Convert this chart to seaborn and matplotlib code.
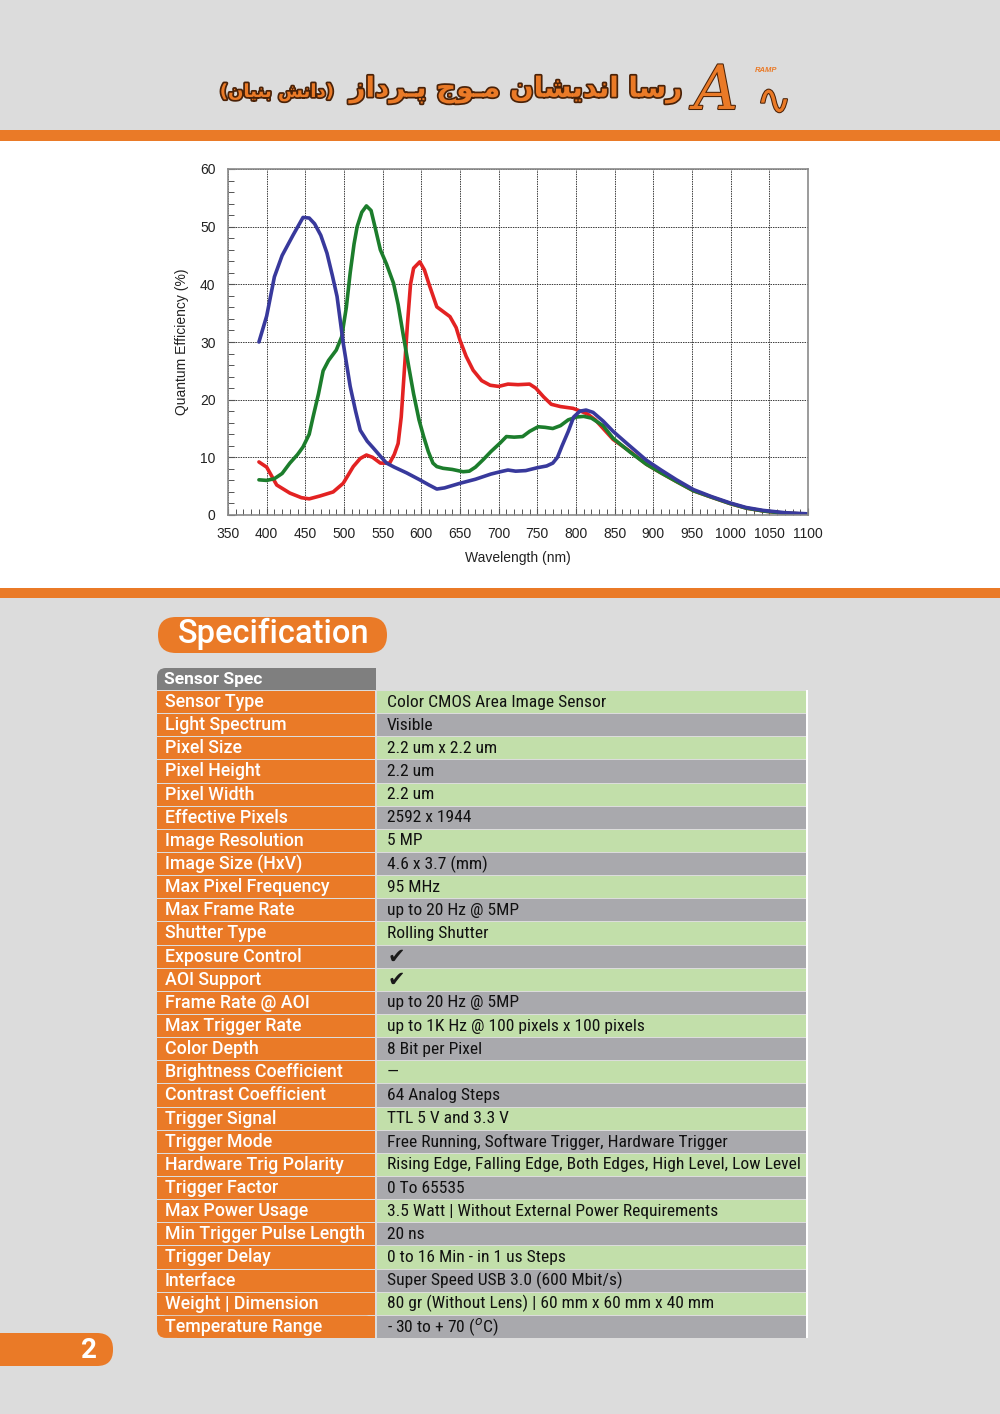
"""
Hoja de especificaciones: curva de eficiencia cuantica + tabla del sensor
"""
import numpy as np
import pandas as pd
import matplotlib
matplotlib.use("Agg")
import matplotlib.pyplot as plt
from matplotlib import font_manager
from matplotlib.patches import Rectangle, FancyBboxPatch
from matplotlib.ticker import MultipleLocator
import matplotlib.patheffects as pe
import seaborn as sns

# --- DATOS DE LA CURVA ---
red_wl = [390, 400, 413, 430, 445, 455, 469, 486, 499, 512, 521, 529, 537, 547, 559, 565,
          570, 574, 578, 582, 586, 590, 598, 604, 610, 620, 628, 637, 645, 650, 658, 667,
          678, 689, 700, 712, 725, 740, 748, 758, 768, 780, 796, 808, 815, 825, 848, 870,
          891, 910, 930, 952, 975, 999, 1020, 1042, 1070, 1100]
red_qe = [9.2, 8.3, 5.2, 3.8, 3.0, 2.8, 3.3, 4.0, 5.5, 8.4, 9.8, 10.4, 10.0, 9.0, 9.0, 10.5,
          12.4, 17, 25, 33, 40, 42.8, 43.9, 42.5, 40, 36.1, 35.3, 34.4, 32.5, 30.3, 27.5, 25.1,
          23.3, 22.5, 22.3, 22.7, 22.6, 22.7, 22, 20.5, 19.2, 18.8, 18.5, 17.9, 17.5, 16.5, 13.1, 11.0,
          8.8, 7.3, 5.8, 4.2, 3.1, 2.0, 1.2, 0.7, 0.3, 0.15]

green_wl = [390, 400, 410, 420, 430, 440, 447, 455, 460, 467, 473, 480, 490, 497, 503, 508,
            513, 517, 523, 529, 535, 540, 547, 555, 564, 570, 577, 584, 590, 597, 603, 609,
            615, 620, 628, 640, 654, 662, 670, 680, 690, 702, 710, 720, 731, 740, 751, 760,
            770, 780, 790, 801, 810, 820, 835, 848, 870, 891, 910, 930, 952, 975, 999, 1020,
            1042, 1070, 1100]
green_qe = [6.1, 6.0, 6.3, 7.2, 9.0, 10.5, 11.8, 14, 17, 21, 25, 26.8, 28.6, 30.9, 36, 42,
            47, 50, 52.5, 53.6, 52.8, 50, 46, 43.5, 40.2, 36.5, 30.9, 25.5, 21, 16.5, 13.6, 11,
            9, 8.4, 8.1, 7.9, 7.5, 7.6, 8.3, 9.6, 11, 12.5, 13.6, 13.5, 13.6, 14.5, 15.3, 15.2,
            15, 15.5, 16.5, 17, 17.1, 16.8, 15.5, 13.3, 10.9, 8.8, 7.3, 5.8, 4.2, 3.1, 2.0, 1.2,
            0.7, 0.3, 0.15]

blue_wl = [390, 400, 410, 420, 434, 447, 455, 462, 470, 478, 485, 491, 499, 508, 515, 521,
           530, 538, 547, 555, 565, 581, 598, 610, 620, 630, 650, 670, 690, 702, 712, 722,
           735, 750, 762, 770, 776, 782, 790, 797, 805, 813, 822, 835, 848, 865, 891, 910,
           930, 952, 975, 999, 1020, 1042, 1070, 1100]
blue_qe = [30, 34.5, 41.3, 45, 48.5, 51.6, 51.5, 50.5, 48.5, 45.4, 41.5, 37.9, 29.8, 22.3, 18, 14.7,
           12.8, 11.6, 10.2, 9, 8.3, 7.3, 6.1, 5.2, 4.5, 4.7, 5.5, 6.2, 7.1, 7.5, 7.8, 7.6,
           7.7, 8.2, 8.5, 9.0, 10.0, 12.0, 14.5, 17.0, 18.0, 18.2, 17.8, 16.3, 14.5, 12.5, 9.5, 7.8,
           6.1, 4.4, 3.2, 2.1, 1.3, 0.8, 0.4, 0.2]

x_ticks = list(range(350, 1101, 50))
y_ticks = list(range(0, 61, 10))

# --- DATOS DE LA TABLA ---
spec_labels = ["Sensor Type", "Light Spectrum", "Pixel Size", "Pixel Height", "Pixel Width",
               "Effective Pixels", "Image Resolution", "Image Size (HxV)", "Max Pixel Frequency",
               "Max Frame Rate", "Shutter Type", "Exposure Control", "AOI Support",
               "Frame Rate @ AOI", "Max Trigger Rate", "Color Depth", "Brightness Coefficient",
               "Contrast Coefficient", "Trigger Signal", "Trigger Mode", "Hardware Trig Polarity",
               "Trigger Factor", "Max Power Usage", "Min Trigger Pulse Length", "Trigger Delay",
               "Interface", "Weight | Dimension", "Temperature Range"]
spec_values = ["Color CMOS Area Image Sensor", "Visible", "2.2 um x 2.2 um", "2.2 um", "2.2 um",
               "2592 x 1944", "5 MP", "4.6 x 3.7 (mm)", "95 MHz", "up to 20 Hz @ 5MP",
               "Rolling Shutter", "\u2714", "\u2714", "up to 20 Hz @ 5MP",
               "up to 1K Hz @ 100 pixels x 100 pixels", "8 Bit per Pixel", "\u2014",
               "64 Analog Steps", "TTL 5 V and 3.3 V",
               "Free Running, Software Trigger, Hardware Trigger",
               "Rising Edge, Falling Edge, Both Edges, High Level, Low Level", "0 To 65535",
               "3.5 Watt | Without External Power Requirements", "20 ns",
               "0 to 16 Min - in 1 us Steps", "Super Speed USB 3.0 (600 Mbit/s)",
               "80 gr (Without Lens) | 60 mm x 60 mm x 40 mm", "- 30 to + 70 ($^{o}$C)"]

TITULO_FA = "رسا اندیشان مـوج پـرداز"
SUBTITULO_FA = "(دانش بنیان)"

# --- COLORES ---
ORANGE = "#ea7a27"
GREEN_CELL = "#c2dfaa"
GRAY_CELL = "#a9a9ad"
PAGE_BG = "#dcdcdc"
palette = {"Red": "#e32222", "Green": "#1c7d2c", "Blue": "#38399c"}

sns.set_theme(style="white")
plt.rcParams["font.family"] = ["Liberation Sans", "DejaVu Sans"]

nombres = {f.name for f in font_manager.fontManager.ttflist}
if "Liberation Sans Narrow" in nombres:
    VAL_FONT, VAL_SIZE = "Liberation Sans Narrow", 13
elif "Roboto Condensed" in nombres:
    VAL_FONT, VAL_SIZE = "Roboto Condensed", 12.6
else:
    VAL_FONT, VAL_SIZE = "Liberation Sans", 10.5


# texto persa: formas de presentacion + orden visual
AR_FORMS = {
    'ا': ('\uFE8D', '\uFE8E', None, None),
    'ب': ('\uFE8F', '\uFE90', '\uFE91', '\uFE92'),
    'پ': ('\uFB56', '\uFB57', '\uFB58', '\uFB59'),
    'ج': ('\uFE9D', '\uFE9E', '\uFE9F', '\uFEA0'),
    'د': ('\uFEA9', '\uFEAA', None, None),
    'ر': ('\uFEAD', '\uFEAE', None, None),
    'ز': ('\uFEAF', '\uFEB0', None, None),
    'س': ('\uFEB1', '\uFEB2', '\uFEB3', '\uFEB4'),
    'ش': ('\uFEB5', '\uFEB6', '\uFEB7', '\uFEB8'),
    'م': ('\uFEE1', '\uFEE2', '\uFEE3', '\uFEE4'),
    'ن': ('\uFEE5', '\uFEE6', '\uFEE7', '\uFEE8'),
    'و': ('\uFEED', '\uFEEE', None, None),
    'ی': ('\uFBFC', '\uFBFD', '\uFBFE', '\uFBFF'),
    'ـ': ('\u0640', '\u0640', '\u0640', '\u0640'),
}


def shape_fa(s):
    out = []
    for i, c in enumerate(s):
        if c not in AR_FORMS:
            out.append(c)
            continue
        iso, fin, ini, med = AR_FORMS[c]
        prev = s[i - 1] if i > 0 else ''
        nxt = s[i + 1] if i < len(s) - 1 else ''
        from_prev = prev in AR_FORMS and AR_FORMS[prev][2] is not None
        to_next = ini is not None and nxt in AR_FORMS
        if from_prev and to_next:
            out.append(med)
        elif from_prev:
            out.append(fin)
        elif to_next:
            out.append(ini)
        else:
            out.append(iso)
    vis = ''.join(reversed(out))
    return vis.translate(str.maketrans('()', ')('))


fig = plt.figure(figsize=(10, 14.14), dpi=100, facecolor=PAGE_BG)

# capa de fondo en pixeles (origen arriba a la izquierda)
bg = fig.add_axes([0, 0, 1, 1], zorder=0)
bg.set_xlim(0, 1000)
bg.set_ylim(1414, 0)
bg.axis("off")

bg.add_patch(Rectangle((0, 130), 1000, 11, color=ORANGE, lw=0))
bg.add_patch(Rectangle((0, 141), 1000, 447, color="white", lw=0))
bg.add_patch(Rectangle((0, 588), 1000, 10, color=ORANGE, lw=0))

# cabecera
outline = [pe.withStroke(linewidth=2.5, foreground="#4a2208")]
bg.text(682, 90, shape_fa(TITULO_FA), fontsize=20, fontweight="bold", color=ORANGE,
        family=["DejaVu Sans"], ha="right", va="center", path_effects=outline)
bg.text(334, 92, shape_fa(SUBTITULO_FA), fontsize=13, fontweight="bold", color=ORANGE,
        family=["DejaVu Sans"], ha="right", va="center", path_effects=outline)
bg.text(716, 92, "A", fontsize=44, fontstyle="italic", color=ORANGE, family=["DejaVu Serif"],
        ha="center", va="center", path_effects=[pe.withStroke(linewidth=1.5, foreground="#4a2208")])
bg.text(774, 102, "\u223f", fontsize=30, color=ORANGE, family=["DejaVu Sans"],
        ha="center", va="center", path_effects=[pe.withStroke(linewidth=1.5, foreground="#4a2208")])
bg.text(766, 70, "RAMP", fontsize=5.5, fontweight="bold", fontstyle="italic", color=ORANGE,
        ha="center", va="center")

# --- GRAFICO QE ---
qe_df = pd.concat([
    pd.DataFrame({"wavelength": red_wl, "qe": red_qe, "channel": "Red"}),
    pd.DataFrame({"wavelength": green_wl, "qe": green_qe, "channel": "Green"}),
    pd.DataFrame({"wavelength": blue_wl, "qe": blue_qe, "channel": "Blue"}),
], ignore_index=True)

ax = fig.add_axes([0.228, 1 - 515 / 1414, 0.58, 346 / 1414], zorder=1)
ax.set_facecolor("white")
sns.lineplot(data=qe_df, x="wavelength", y="qe", hue="channel", hue_order=["Red", "Green", "Blue"],
             palette=palette, linewidth=2.6, estimator=None, legend=False, ax=ax)
ax.set_xlim(350, 1100)
ax.set_ylim(0, 60)
ax.set_xticks(x_ticks)
ax.set_yticks(y_ticks)
ax.xaxis.set_minor_locator(MultipleLocator(10))
ax.yaxis.set_minor_locator(MultipleLocator(2))
ax.tick_params(which="both", direction="in", color="#555555", bottom=True, left=True)
ax.tick_params(which="major", length=5, width=0.8, labelsize=10, labelcolor="#222222", pad=9)
ax.tick_params(which="minor", length=4, width=0.7)
ax.grid(True, which="major", color="#3a3a3a", linestyle=(0, (1.5, 1.0)), linewidth=0.7)
for s in ax.spines.values():
    s.set_color("#8a8a8a")
    s.set_linewidth(1.2)
ax.set_xlabel("Wavelength (nm)", fontsize=10, color="#222222", labelpad=7)
ax.set_ylabel("Quantum Efficiency (%)", fontsize=10, color="#222222", labelpad=8)

# --- ESPECIFICACIONES ---
bg.add_patch(FancyBboxPatch((158, 617), 229, 36, boxstyle="round,pad=0,rounding_size=18",
                            fc=ORANGE, ec="none"))
bg.text(274, 634, "Specification", fontsize=23.5, fontweight="medium", color="white",
        family=["Roboto"], ha="center", va="center")

x0, xs, x1 = 157, 376, 806
top0, rh = 690, 23.14

# encabezado "Sensor Spec" con esquina redondeada
bg.add_patch(FancyBboxPatch((x0, 668), xs - x0, 22, boxstyle="round,pad=0,rounding_size=9",
                            fc="#7f7f7f", ec="none"))
bg.add_patch(Rectangle((x0 + 20, 668), xs - x0 - 20, 22, fc="#7f7f7f", ec="none"))
bg.add_patch(Rectangle((x0, 680), xs - x0, 10, fc="#7f7f7f", ec="none"))
bg.text(164, 679.5, "Sensor Spec", fontsize=12.5, fontweight="bold", color="white",
        family=["Roboto"], va="center")

n = len(spec_labels)
for i, (lab, val) in enumerate(zip(spec_labels, spec_values)):
    y = top0 + i * rh
    cell_bg = GREEN_CELL if i % 2 == 0 else GRAY_CELL
    if i == n - 1:
        bg.add_patch(FancyBboxPatch((x0, y + 1), xs - x0 - 1, rh - 1,
                                    boxstyle="round,pad=0,rounding_size=9", fc=ORANGE, ec="none"))
        bg.add_patch(Rectangle((x0, y + 1), xs - x0 - 1, (rh - 1) / 2, fc=ORANGE, ec="none"))
        bg.add_patch(Rectangle((x0 + 20, y + 1), xs - x0 - 21, rh - 1, fc=ORANGE, ec="none"))
    else:
        bg.add_patch(Rectangle((x0, y + 1), xs - x0 - 1, rh - 1, fc=ORANGE, ec="none"))
    bg.add_patch(Rectangle((xs + 1, y + 1), x1 - xs - 1, rh - 1, fc=cell_bg, ec="none"))
    bg.add_patch(Rectangle((x1, y), 2, rh, fc="white", ec="none"))
    yc = y + rh / 2 + 0.5
    bg.text(165, yc, lab, fontsize=12.8, fontweight="medium", color="white", family=["Roboto"],
            va="center")
    if val == "\u2714":
        bg.text(388, yc, val, fontsize=15, color="#1a1a1a", family=["DejaVu Sans"], va="center")
    else:
        bg.text(387, yc, val, fontsize=VAL_SIZE, color="#111111", family=[VAL_FONT, "DejaVu Sans"],
                va="center")

# numero de pagina
bg.add_patch(FancyBboxPatch((-30, 1333), 143, 33, boxstyle="round,pad=0,rounding_size=16",
                            fc=ORANGE, ec="none"))
bg.text(89, 1350, "2", fontsize=20, fontweight="bold", color="white", family=["Roboto"],
        ha="center", va="center")

fig.savefig("out.png", dpi=100, facecolor=fig.get_facecolor())
